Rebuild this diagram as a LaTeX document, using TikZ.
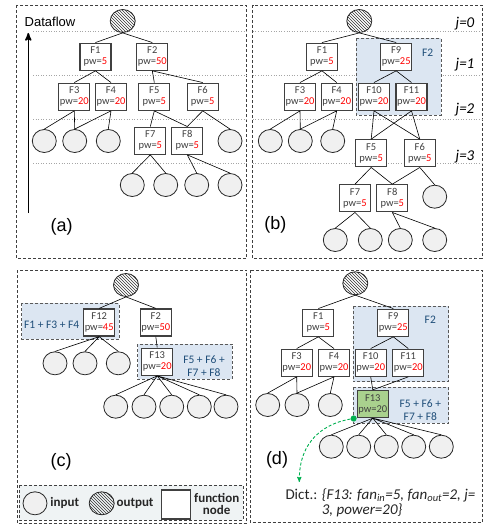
\documentclass[tikz,border=0pt]{standalone}
\usepackage{fontspec}
\setmainfont{Carlito}
\newfontfamily\arialfont{Liberation Sans}
\usepackage{tikz}
\usetikzlibrary{arrows}
\usetikzlibrary{shapes.geometric}
\usetikzlibrary{patterns}
\definecolor{nodegray}{HTML}{404040}
\definecolor{circfill}{HTML}{F0F0F0}
\definecolor{groupblue}{HTML}{DCE6F2}
\definecolor{groupink}{HTML}{1F4E79}
\definecolor{mergegreen}{HTML}{A9D18E}
\definecolor{hintgreen}{HTML}{00B050}
\definecolor{legendfill}{HTML}{EFF3F4}
\newcommand{\pw}[2]{#1\\pw=\textcolor{red}{#2}}

\begin{document}
\begin{tikzpicture}[x=1pt, y=-1pt,
  fnode/.style={rectangle, draw=nodegray, line width=1.3pt, fill=white, minimum width=31pt, minimum height=27pt, inner sep=0.5pt, align=center, text=nodegray, font=\fontsize{10.5}{11}\selectfont},
  input/.style={ellipse, draw=black!85, line width=0.8pt, fill=circfill, minimum width=24pt, minimum height=23pt, inner sep=0pt},
  output/.style={ellipse, draw=black!85, line width=0.8pt, pattern=north west lines, pattern color=black!80, minimum width=25pt, minimum height=23pt, inner sep=0pt},
  panel/.style={draw=black!75, dash pattern=on 3pt off 2pt, line width=0.8pt},
  group/.style={draw=black!65, dash pattern=on 3pt off 2pt, line width=0.9pt, fill=groupblue},
  grouplabel/.style={text=groupink, align=center, font=\fontsize{11.5}{12.7}\selectfont},
  dotline/.style={draw=black!35, dotted, line width=0.6pt},
  line/.style={line width=0.6pt, draw=black},
  tag/.style={font=\arialfont\fontsize{18}{20}\selectfont},
  level/.style={font=\itshape\fontsize{15}{16}\selectfont},
  legend/.style={font=\bfseries\fontsize{13}{12.5}\selectfont, align=center, text=black!85},
  hint/.style={draw=hintgreen, dash pattern=on 3pt off 2pt, line width=0.9pt, *->, >=stealth'}]
\useasboundingbox (0,0) rectangle (484,527);
% (a) original graph
\draw [panel] (16.7,5) rectangle (246.7,258.3);
\draw [dotline] (33,31.7) -- (246.7,31.7);
\draw [dotline] (33,75) -- (246.7,75);
\draw [dotline] (33,119.3) -- (246.7,119.3);
\draw [dotline] (33,163.3) -- (246.7,163.3);
\draw [line width=1.6pt, ->, >=stealth'] (28.3,213) -- (28.3,33);
\node [font=\arialfont\fontsize{13}{15}\selectfont] (a-flow) at (50,21.7) {Dataflow};
\node [output] (a-out) at (122.7,21) {};
\node [fnode] (a-F1) at (95.5,56.7) {\pw{F1}{5}};
\node [fnode] (a-F2) at (152.3,56.7) {\pw{F2}{50}};
\node [fnode] (a-F3) at (74.3,96.7) {\pw{F3}{20}};
\node [fnode] (a-F4) at (111,96.7) {\pw{F4}{20}};
\node [fnode] (a-F5) at (154.3,96.7) {\pw{F5}{5}};
\node [fnode] (a-F6) at (202.7,96.7) {\pw{F6}{5}};
\node [fnode] (a-F7) at (150.3,140.7) {\pw{F7}{5}};
\node [fnode] (a-F8) at (187.3,140.7) {\pw{F8}{5}};
\node [input] (a-i1) at (44.3,141) {};
\node [input] (a-i2) at (74.7,141) {};
\node [input] (a-i3) at (108.3,141) {};
\node [input] (a-i4) at (230,141) {};
\node [input] (a-i5) at (132.3,185) {};
\node [input] (a-i6) at (165.7,185) {};
\node [input] (a-i7) at (196.7,185) {};
\node [input] (a-i8) at (230,185) {};
\draw [line] (a-out.south) -- (a-F1.north) (a-out.south) -- (a-F2.north);
\draw [line] (a-F1.south) -- (a-F3.north) (a-F1.south) -- (a-F4.north);
\draw [line] (a-F2.south) -- (a-F5.north) (a-F2.south) -- (a-F6.north);
\draw [line] (a-F3.south) -- (a-i1.north) (a-F3.south) -- (a-i2.north);
\draw [line] (a-F4.south) -- (a-i2.north) (a-F4.south) -- (a-i3.north);
\draw [line] (a-F5.south) -- (a-F7.north) (a-F5.south) -- (a-F8.north);
\draw [line] (a-F6.south) -- (a-F8.north) (a-F6.south) -- (a-i4.north);
\draw [line] (a-F7.south) -- (a-i5.north) (a-F7.south) -- (a-i6.north);
\draw [line] (a-F8.south) -- (a-i7.north) (a-F8.south) -- (a-i8.north);
\node [tag] (a-tag) at (61.7,226.7) {(a)};
% (b) F2 split into F9, F10, F11
\draw [panel] (252.7,5) rectangle (482,258.3);
\draw [dotline] (252.7,31.7) -- (482,31.7);
\draw [dotline] (252.7,75) -- (482,75);
\draw [dotline] (252.7,119.3) -- (482,119.3);
\draw [dotline] (252.7,163.3) -- (482,163.3);
\node [level] (b-j0) at (465,23.3) {j=0};
\node [level] (b-j1) at (465,65) {j=1};
\node [level] (b-j2) at (465,110) {j=2};
\node [level] (b-j3) at (465,157) {j=3};
\draw [group] (356,38.3) rectangle (441,115);
\node [grouplabel] (b-grp) at (427.7,52.7) {F2};
\node [output] (b-out) at (359.3,21) {};
\node [fnode] (b-F1) at (322,56.7) {\pw{F1}{5}};
\node [fnode] (b-F9) at (396.2,56.7) {\pw{F9}{25}};
\node [fnode] (b-F3) at (300,96.7) {\pw{F3}{20}};
\node [fnode] (b-F4) at (336.7,96.7) {\pw{F4}{20}};
\node [fnode] (b-F10) at (374,96.7) {\pw{F10}{20}};
\node [fnode] (b-F11) at (411.5,96.7) {\pw{F11}{20}};
\node [fnode] (b-F5) at (371.2,153.3) {\pw{F5}{5}};
\node [fnode] (b-F6) at (419.8,153.3) {\pw{F6}{5}};
\node [fnode] (b-F7) at (355,198.3) {\pw{F7}{5}};
\node [fnode] (b-F8) at (392.3,198.3) {\pw{F8}{5}};
\node [input] (b-i1) at (270.3,141) {};
\node [input] (b-i2) at (300.3,141) {};
\node [input] (b-i3) at (332.7,141) {};
\node [input] (b-i4) at (434.7,196.7) {};
\node [input] (b-i5) at (335.3,240) {};
\node [input] (b-i6) at (370.3,240) {};
\node [input] (b-i7) at (400.3,240) {};
\node [input] (b-i8) at (434.7,240) {};
\draw [line] (b-out.south) -- (b-F1.north) (b-out.south) -- (b-F9.north);
\draw [line] (b-F1.south) -- (b-F3.north) (b-F1.south) -- (b-F4.north);
\draw [line] (b-F9.south) -- (b-F10.north) (b-F9.south) -- (b-F11.north);
\draw [line] (b-F3.south) -- (b-i1.north) (b-F3.south) -- (b-i2.north);
\draw [line] (b-F4.south) -- (b-i2.north) (b-F4.south) -- (b-i3.north);
\draw [line] (b-F10.south) -- (b-F5.north) (b-F10.south) -- (b-F6.north);
\draw [line] (b-F11.south) -- (b-F5.north) (b-F11.south) -- (b-F6.north);
\draw [line] (b-F5.south) -- (b-F7.north) (b-F5.south) -- (b-F8.north);
\draw [line] (b-F6.south) -- (b-F8.north) (b-F6.south) -- (b-i4.north);
\draw [line] (b-F7.south) -- (b-i5.north) (b-F7.south) -- (b-i6.north);
\draw [line] (b-F8.south) -- (b-i7.north) (b-F8.south) -- (b-i8.north);
\node [tag] (b-tag) at (275.3,225) {(b)};
% (c) merged nodes
\draw [panel] (17,270) rectangle (246.7,523.3);
\draw [group] (21.7,303.3) rectangle (119,339.3);
\node [grouplabel] (c-grp1) at (51.7,325) {F1 + F3 + F4};
\draw [group] (137.7,344) rectangle (232.3,379.3);
\node [grouplabel] (c-grp2) at (204,366) {F5 + F6 +\\F7 + F8};
\node [output] (c-out) at (126,285) {};
\node [fnode] (c-F12) at (99.2,322.5) {\pw{F12}{45}};
\node [fnode] (c-F2) at (155.8,322.5) {\pw{F2}{50}};
\node [fnode] (c-F13) at (157.2,361.7) {\pw{F13}{20}};
\node [input] (c-i1) at (55,363.3) {};
\node [input] (c-i2) at (85,363.3) {};
\node [input] (c-i3) at (118.3,363.3) {};
\node [input] (c-i4) at (115.7,406.7) {};
\node [input] (c-i5) at (144,406.7) {};
\node [input] (c-i6) at (171.7,406.7) {};
\node [input] (c-i7) at (199.3,406.7) {};
\node [input] (c-i8) at (226,406.7) {};
\draw [line] (c-out.south) -- (c-F12.north) (c-out.south) -- (c-F2.north);
\draw [line] (c-F2.south) -- (c-F13.north);
\draw [line] (c-F12.south) -- (c-i1.north) (c-F12.south) -- (c-i2.north) (c-F12.south) -- (c-i3.north);
\draw [line] (c-F13.south) -- (c-i4.north) (c-F13.south) -- (c-i5.north) (c-F13.south) -- (c-i6.north) (c-F13.south) -- (c-i7.north) (c-F13.south) -- (c-i8.north);
\node [tag] (c-tag) at (61,461.7) {(c)};
% legend
\draw [panel, fill=legendfill] (19.3,485) rectangle (243,520);
\node [input] (leg-in) at (35,503.3) {};
\node [legend] (leg-in-text) at (64.7,503.3) {input};
\node [output] (leg-out) at (101.7,503.3) {};
\node [legend] (leg-out-text) at (135,503.3) {output};
\node [fnode, minimum width=29pt, minimum height=29pt] (leg-fn) at (176.2,504.5) {};
\node [legend] (leg-fn-text) at (216.7,503.8) {function\\node};
% (d) merged F13 with dictionary entry
\draw [panel] (250.3,270) rectangle (482,522.7);
\draw [group] (353,306) rectangle (448.7,381.7);
\node [grouplabel] (d-grp1) at (430.3,319.3) {F2};
\draw [group] (353,387.3) rectangle (448.7,423.3);
\node [grouplabel] (d-grp2) at (420.3,410) {F5 + F6 +\\F7 + F8};
\node [output] (d-out) at (355.3,283.3) {};
\node [fnode] (d-F1) at (318.3,322.7) {\pw{F1}{5}};
\node [fnode] (d-F9) at (393.3,322.7) {\pw{F9}{25}};
\node [fnode] (d-F3) at (296.7,362.7) {\pw{F3}{20}};
\node [fnode] (d-F4) at (334,362.7) {\pw{F4}{20}};
\node [fnode] (d-F10) at (370.7,362.7) {\pw{F10}{20}};
\node [fnode] (d-F11) at (408.3,362.7) {\pw{F11}{20}};
\node [fnode, fill=mergegreen] (d-F13) at (372.8,404) {F13\\pw=20};
\node [input] (d-i1) at (267.7,405) {};
\node [input] (d-i2) at (297,405) {};
\node [input] (d-i3) at (330.3,405) {};
\node [input] (d-i4) at (331.3,446.7) {};
\node [input] (d-i5) at (358.7,446.7) {};
\node [input] (d-i6) at (386.3,446.7) {};
\node [input] (d-i7) at (413.7,446.7) {};
\node [input] (d-i8) at (441.3,446.7) {};
\draw [line] (d-out.south) -- (d-F1.north) (d-out.south) -- (d-F9.north);
\draw [line] (d-F1.south) -- (d-F3.north) (d-F1.south) -- (d-F4.north);
\draw [line] (d-F9.south) -- (d-F10.north) (d-F9.south) -- (d-F11.north);
\draw [line] (d-F3.south) -- (d-i1.north) (d-F3.south) -- (d-i2.north);
\draw [line] (d-F4.south) -- (d-i2.north) (d-F4.south) -- (d-i3.north);
\draw [line] (d-F10.south) -- (d-F13.north) (d-F11.south) -- (d-F13.north);
\draw [line] (d-F13.south) -- (d-i4.north) (d-F13.south) -- (d-i5.north) (d-F13.south) -- (d-i6.north) (d-F13.south) -- (d-i7.north) (d-F13.south) -- (d-i8.north);
\node [tag] (d-tag) at (277,460) {(d)};
\node [anchor=north west, inner sep=0pt, text=black!85, font=\fontsize{15}{15}\selectfont] (d-dict) at (285.3,488.5) {Dict.: \begin{tabular}[t]{@{}l@{}}\itshape\{F13: fan\textsubscript{in}=5, fan\textsubscript{out}=2, j=\\\itshape 3, power=20\}\end{tabular}};
\coordinate (d-hint-end) at (299.3,482);
\draw [hint] (d-F13.south west) .. controls (325,422) and (299,440) .. (d-hint-end);
\end{tikzpicture}
\end{document}
